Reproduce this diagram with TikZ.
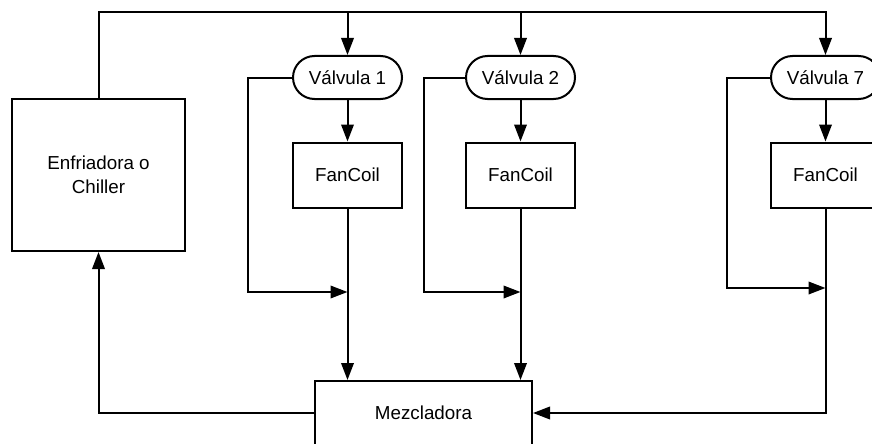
\documentclass[tikz,border=0pt]{standalone}
\usepackage{fontspec}
\setmainfont{Liberation Sans}
\usetikzlibrary{arrows.meta}
\begin{document}
\begin{tikzpicture}[x=1pt,y=-1pt,
  line width=2pt,
  box/.style={draw,rectangle,align=center,font=\fontsize{18.8}{24}\selectfont,inner sep=0pt},
  valve/.style={draw,rectangle,rounded corners=21.5pt,minimum width=109pt,minimum height=43pt,font=\fontsize{18.8}{24}\selectfont,inner sep=0pt},
  fan/.style={box,minimum width=109pt,minimum height=65pt},
  arr/.style={-{Triangle[length=17pt,width=12.5pt]}}]
\useasboundingbox (0,0) rectangle (872,444);
\clip (0,0) rectangle (872,444);
\node[box,minimum width=173pt,minimum height=152pt] (chiller) at (98.5,175) {Enfriadora o\\Chiller};
\node[valve] (v1) at (347.5,77.5) {Válvula 1};
\node[valve] (v2) at (520.5,77.5) {Válvula 2};
\node[valve] (v7) at (825.5,77.5) {Válvula 7};
\node[fan] (f1) at (347.5,175) {FanCoil};
\node[fan] (f2) at (520.5,175) {FanCoil};
\node[fan] (f7) at (825.5,175) {FanCoil};
\node[box,minimum width=217pt,minimum height=64pt] (mez) at (423.5,413) {Mezcladora};
\coordinate (top) at (98.5,12);
\coordinate (j1) at (347.5,292);
\coordinate (j2) at (520.5,292);
\coordinate (j7) at (825.5,288);
\coordinate (c1) at (247.5,292);
\coordinate (c2) at (423.5,292);
\coordinate (c7) at (726.5,288);
% supply line
\draw[arr] (chiller.north) -- (top) -| (v7.north);
\draw[arr] (v1.north |- top) -- (v1.north);
\draw[arr] (v2.north |- top) -- (v2.north);
% valve to fancoil
\draw[arr] (v1.south) -- (f1.north);
\draw[arr] (v2.south) -- (f2.north);
\draw[arr] (v7.south) -- (f7.north);
% bypasses
\draw[arr] (v1.west) -| (c1) -- (j1);
\draw[arr] (v2.west) -| (c2) -- (j2);
\draw[arr] (v7.west) -| (c7) -- (j7);
% fancoil to mixer
\draw[arr] (f1.south) -- (f1.south |- mez.north);
\draw[arr] (f2.south) -- (f2.south |- mez.north);
\draw[arr] (f7.south) |- (mez.east);
% return
\draw[arr] (mez.west) -| (chiller.south);
\end{tikzpicture}
\end{document}
